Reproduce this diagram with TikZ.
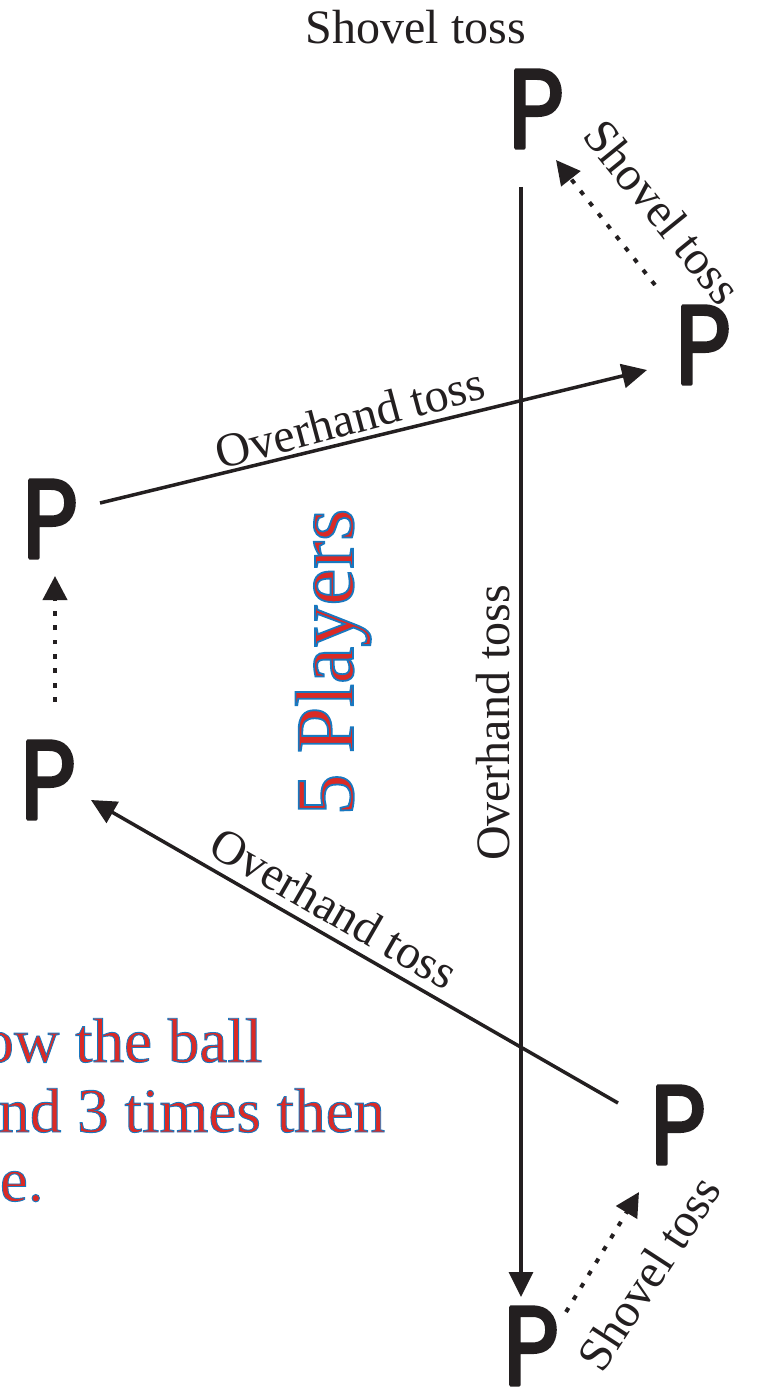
\documentclass[tikz,border=0pt]{standalone}
\usepackage{fontspec}
\setmainfont{Liberation Serif}
\newfontfamily\pfont{Poppins}
\usetikzlibrary{arrows.meta}
\definecolor{pblack}{RGB}{35,31,32}
\definecolor{rtext}{RGB}{218,42,38}
\newcommand\outlined[2]{\special{pdf:literal direct 2 Tr #1 w 0.094 0.47 0.753 RG}#2\special{pdf:literal direct 0 Tr}}
\newcommand\heavy[1]{\special{pdf:literal direct 2 Tr 1.6 w 1 j 0.137 0.122 0.125 RG}#1\special{pdf:literal direct 0 Tr 0 j}}
\begin{document}
\begin{tikzpicture}[x=0.5pt,y=-0.5pt,
  lbl/.style={font=\fontsize{24}{28}\selectfont, inner sep=0pt, text=pblack},
  player/.style={font=\pfont\fontsize{56}{60}\selectfont, inner sep=0pt, text=pblack, xscale=0.86},
  toss/.style={line width=1.75pt, draw=pblack, -{Triangle[length=12.5pt,width=12pt]}},
  shovel/.style={line width=2pt, draw=pblack, dash pattern=on 2.4pt off 4.8pt, -{Triangle[length=12pt,width=12pt]}},
  redline/.style={font=\fontsize{31.5}{35}\selectfont, inner sep=0pt, anchor=base west, text=rtext}]
\path[use as bounding box] (0,0) rectangle (762,1396);

% players
\node[player] (pT)  at (536,109)  {\heavy{P}};
\node[player] (pR1) at (703,345)  {\heavy{P}};
\node[player] (pL1) at (50,519)   {\heavy{P}};
\node[player] (pL2) at (48,780)   {\heavy{P}};
\node[player] (pR2) at (678,1125) {\heavy{P}};
\node[player] (pB)  at (531,1346) {\heavy{P}};

% connector ends
\coordinate (vS) at (521,187);
\coordinate (vE) at (521,1297);
\coordinate (s1S) at (655,285);
\coordinate (s1E) at (556,160);
\coordinate (o1S) at (100,503);
\coordinate (o1E) at (647,370);
\coordinate (s2S) at (55,702);
\coordinate (s2E) at (55,576);
\coordinate (o2S) at (618,1103);
\coordinate (o2E) at (91,800);
\coordinate (s3S) at (566,1312);
\coordinate (s3E) at (639,1192);

\draw[toss] (vS) -- (vE);
\draw[toss] (o1S) -- (o1E);
\draw[toss] (o2S) -- (o2E);
\draw[shovel] (s1S) -- (s1E);
\draw[shovel] (s2S) -- (s2E);
\draw[shovel] (s3S) -- (s3E);

% labels
\node[lbl, anchor=base] (lTop) at (416,44) {Shovel toss};
\node[lbl, rotate=-51] (lS1) at (663,212) {Shovel toss};
\node[lbl, rotate=15] (lO1) at (350,418) {Overhand toss};
\node[lbl, rotate=90] (lV) at (493,723) {Overhand toss};
\node[lbl, rotate=-30] (lO2) at (334,908) {Overhand toss};
\node[lbl, rotate=57] (lS3) at (649,1273) {Shovel toss};

% title
\node[inner sep=0pt, rotate=90, anchor=base, text=rtext, font=\fontsize{41.5}{45}\selectfont] (title) at (353,662) {\outlined{0.9}{5 Players}};

% instruction text
\node[redline] (r1) at (-18,1062) {\outlined{0.45}{ow the ball}};
\node[redline] (r2) at (-2,1132) {\outlined{0.45}{nd 3 times then}};
\node[redline] (r3) at (-18,1201) {\outlined{0.45}{te.}};
\end{tikzpicture}
\end{document}
